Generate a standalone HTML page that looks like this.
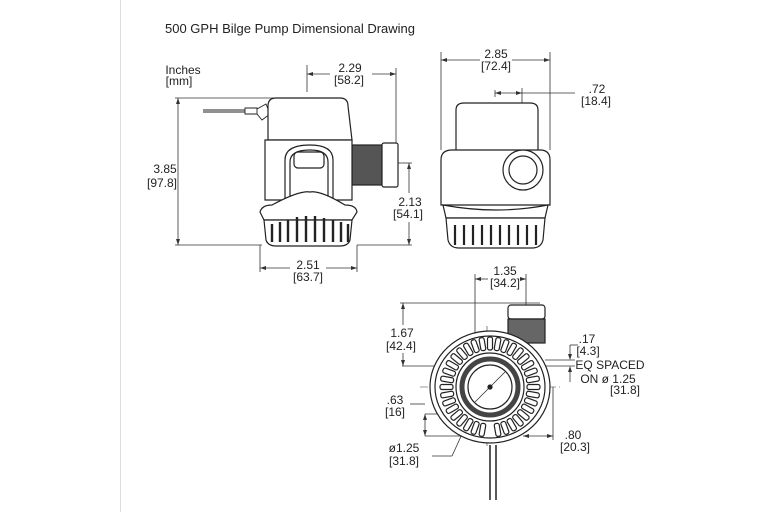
<!DOCTYPE html>
<html><head><meta charset="utf-8"><style>
html,body{margin:0;padding:0;background:#fff;width:768px;height:512px;overflow:hidden}
svg{display:block}
text{font-family:"Liberation Sans",sans-serif;fill:#222}
</style></head><body>
<svg width="768" height="512" viewBox="0 0 768 512">
<line x1="120.5" y1="0" x2="120.5" y2="512" stroke="#ddd" stroke-width="1"/>
<text x="165" y="33" font-size="13" fill="#333">500 GPH Bilge Pump Dimensional Drawing</text>

<g font-size="12" text-anchor="middle">
<text x="183" y="74">Inches</text><text x="179" y="85">[mm]</text>
<text x="165" y="173">3.85</text><text x="162" y="187">[97.8]</text>
<text x="350" y="72">2.29</text><text x="349" y="84">[58.2]</text>
<text x="410" y="206">2.13</text><text x="408" y="218">[54.1]</text>
<text x="308" y="269">2.51</text><text x="308" y="281">[63.7]</text>
<text x="496" y="58">2.85</text><text x="496" y="70">[72.4]</text>
<text x="597" y="93">.72</text><text x="596" y="105">[18.4]</text>
<text x="505" y="275">1.35</text><text x="505" y="287">[34.2]</text>
<text x="402" y="337">1.67</text><text x="401" y="350">[42.4]</text>
<text x="587" y="343">.17</text><text x="588" y="355">[4.3]</text>
<text x="610" y="369">EQ SPACED</text>
<text x="608" y="383">ON ø 1.25</text><text x="625" y="394">[31.8]</text>
<text x="395" y="404">.63</text><text x="395" y="416">[16]</text>
<text x="404" y="452">ø1.25</text><text x="404" y="465">[31.8]</text>
<text x="573" y="439">.80</text><text x="575" y="451">[20.3]</text>
</g>

<g fill="none" stroke="#333" stroke-width="0.8">
<line x1="178" y1="98" x2="178" y2="245"/>
<line x1="175" y1="98" x2="290" y2="98"/>
<line x1="175" y1="245" x2="262" y2="245"/>
<line x1="307" y1="65" x2="307" y2="92"/>
<line x1="396" y1="68" x2="396" y2="145"/>
<line x1="307" y1="74" x2="330" y2="74"/><line x1="372" y1="74" x2="396" y2="74"/>
<line x1="409" y1="163" x2="409" y2="193"/><line x1="409" y1="222" x2="409" y2="245"/>
<line x1="398" y1="163" x2="412" y2="163"/><line x1="357" y1="245" x2="412" y2="245"/>
<line x1="260" y1="245" x2="260" y2="272"/><line x1="357" y1="245" x2="357" y2="272"/>
<line x1="260" y1="268" x2="290" y2="268"/><line x1="326" y1="268" x2="357" y2="268"/>
<line x1="441" y1="52" x2="441" y2="150"/><line x1="550" y1="52" x2="550" y2="150"/>
<line x1="441" y1="60" x2="480" y2="60"/><line x1="512" y1="60" x2="550" y2="60"/>
<line x1="495" y1="90" x2="495" y2="97"/><line x1="522" y1="88" x2="522" y2="137"/>
<line x1="495" y1="93" x2="575" y2="93"/>
<line x1="475" y1="274" x2="475" y2="338"/><line x1="526" y1="274" x2="526" y2="305"/>
<line x1="475" y1="279" x2="488" y2="279"/><line x1="522" y1="279" x2="526" y2="279"/>
<line x1="400" y1="303" x2="540" y2="303"/><line x1="402" y1="366" x2="478" y2="366"/>
<line x1="403" y1="303" x2="403" y2="325"/><line x1="403" y1="353" x2="403" y2="366"/>
<line x1="570" y1="345" x2="570" y2="356"/><line x1="570" y1="372" x2="570" y2="382"/>
<line x1="545" y1="360" x2="575" y2="360"/><line x1="545" y1="366" x2="575" y2="366"/>
<line x1="570" y1="345" x2="578" y2="345"/>
<line x1="425" y1="414" x2="455" y2="414"/><line x1="425" y1="436" x2="480" y2="436"/>
<line x1="425" y1="414" x2="425" y2="436"/><line x1="410" y1="404" x2="425" y2="404"/>
<line x1="432" y1="456" x2="452" y2="456"/><line x1="452" y1="456" x2="463" y2="432"/>
<line x1="523" y1="436" x2="553" y2="436"/><line x1="553" y1="387" x2="553" y2="440"/>
<line x1="420" y1="387" x2="560" y2="387" stroke-dasharray="8,3,2,3" stroke-width="0.6"/>
<line x1="487" y1="326" x2="487" y2="448" stroke-dasharray="8,3,2,3" stroke-width="0.6"/>
</g>
<g fill="#333">
<path d="M178 98l-2 6h4z M178 245l-2 -6h4z M307 74l6 -2v4z M396 74l-6 -2v4z M409 163l-2 6h4z M409 245l-2 -6h4z M260 268l6 -2v4z M357 268l-6 -2v4z M441 60l6 -2v4z M550 60l-6 -2v4z M495 93l6 -2v4z M522 93l-6 -2v4z M475 279l6 -2v4z M526 279l-6 -2v4z M403 303l-2 6h4z M403 366l-2 -6h4z M570 360l-2 -6h4z M570 366l-2 6h4z M425 414l-2 6h4z M425 436l-2 -6h4z M523 436l6 -2v4z M553 436l-6 -2v4z"/>
</g>

<!-- SIDE VIEW -->
<g stroke="#222" stroke-width="1.2" fill="#fff">
<path d="M203 110h42 M203 112h42 M245 108h12 v6 h-12z M257 109 L266 104 L270 114 L262 120 L257 114" stroke-width="0.9"/>
<rect x="352" y="145" width="30" height="40" fill="#555"/>
<rect x="382" y="143" width="16" height="44" rx="2"/>
<path d="M268 140 V106 Q268 98 276 98 H340 Q348 98 348 106 L352 140 Z"/>
<path d="M265 140 H352 V200 H265 Z"/>
<path d="M285 200 V160 Q285 145 310 145 Q333 145 333 160 V200" />
<path d="M290 200 V162 Q290 150 310 150 Q328 150 328 162 V200" fill="none"/>
<rect x="294" y="152" width="30" height="16" rx="4" fill="#fff"/>
<path d="M260 212 Q262 205 272 205 Q300 190 310 192 Q320 190 345 205 Q356 205 357 212 L352 220 H264Z"/>
<path d="M264 220 H352 L350 240 Q348 246 340 246 H276 Q268 246 266 240Z"/>
</g>
<g stroke="#222" stroke-width="2.4">
<line x1="272" y1="224" x2="272" y2="242"/><line x1="280" y1="222" x2="280" y2="242"/><line x1="288" y1="220" x2="288" y2="242"/><line x1="297" y1="217" x2="297" y2="242"/><line x1="306" y1="216" x2="306" y2="242"/><line x1="315" y1="216" x2="315" y2="242"/><line x1="324" y1="218" x2="324" y2="242"/><line x1="333" y1="220" x2="333" y2="242"/><line x1="341" y1="222" x2="341" y2="242"/><line x1="348" y1="224" x2="348" y2="242"/>
</g>

<!-- FRONT VIEW -->
<g stroke="#222" stroke-width="1.2" fill="#fff">
<path d="M456 152 V110 Q456 103 464 103 H530 Q538 103 538 110 V152Z"/>
<path d="M441 160 Q441 150 452 150 H540 Q550 150 550 160 V205 H441Z"/>
<path d="M443 205 Q470 210 496 210 Q522 210 548 205 L545 218 H446Z"/>
<path d="M446 218 H545 L543 240 Q541 248 532 248 H459 Q450 248 448 240Z"/>
<circle cx="523" cy="170" r="20"/><circle cx="523" cy="170" r="14"/>
</g>
<g stroke="#222" stroke-width="2.2">
<line x1="455" y1="225" x2="455" y2="245"/><line x1="464" y1="225" x2="464" y2="245"/><line x1="473" y1="225" x2="473" y2="245"/><line x1="482" y1="225" x2="482" y2="245"/><line x1="491" y1="225" x2="491" y2="245"/><line x1="500" y1="225" x2="500" y2="245"/><line x1="509" y1="225" x2="509" y2="245"/><line x1="518" y1="225" x2="518" y2="245"/><line x1="527" y1="225" x2="527" y2="245"/><line x1="536" y1="225" x2="536" y2="245"/>
</g>

<!-- BOTTOM VIEW -->
<g stroke="#222" stroke-width="1.2" fill="#fff">
<rect x="508" y="305" width="37" height="14" rx="3"/>
<rect x="508" y="319" width="37" height="24" fill="#666"/>
<path d="M490 445 V500 M496 445 V500" stroke-width="1.5"/>
<ellipse cx="490" cy="387" rx="60" ry="56"/>
<ellipse cx="490" cy="387" rx="55" ry="51"/>
</g>
<g transform="translate(490 387)" fill="#fff" stroke="#222" stroke-width="1.2">
<rect x="-2.5" y="-50" width="5" height="13" rx="2" transform="rotate(0)"/>
<rect x="-2.5" y="-50" width="5" height="13" rx="2" transform="rotate(10)"/>
<rect x="-2.5" y="-50" width="5" height="13" rx="2" transform="rotate(20)"/>
<rect x="-2.5" y="-50" width="5" height="13" rx="2" transform="rotate(30)"/>
<rect x="-2.5" y="-50" width="5" height="13" rx="2" transform="rotate(40)"/>
<rect x="-2.5" y="-50" width="5" height="13" rx="2" transform="rotate(50)"/>
<rect x="-2.5" y="-50" width="5" height="13" rx="2" transform="rotate(60)"/>
<rect x="-2.5" y="-50" width="5" height="13" rx="2" transform="rotate(70)"/>
<rect x="-2.5" y="-50" width="5" height="13" rx="2" transform="rotate(80)"/>
<rect x="-2.5" y="-50" width="5" height="13" rx="2" transform="rotate(90)"/>
<rect x="-2.5" y="-50" width="5" height="13" rx="2" transform="rotate(100)"/>
<rect x="-2.5" y="-50" width="5" height="13" rx="2" transform="rotate(110)"/>
<rect x="-2.5" y="-50" width="5" height="13" rx="2" transform="rotate(120)"/>
<rect x="-2.5" y="-50" width="5" height="13" rx="2" transform="rotate(130)"/>
<rect x="-2.5" y="-50" width="5" height="13" rx="2" transform="rotate(140)"/>
<rect x="-2.5" y="-50" width="5" height="13" rx="2" transform="rotate(150)"/>
<rect x="-2.5" y="-50" width="5" height="13" rx="2" transform="rotate(160)"/>
<rect x="-2.5" y="-50" width="5" height="13" rx="2" transform="rotate(170)"/>
<rect x="-2.5" y="-50" width="5" height="13" rx="2" transform="rotate(190)"/>
<rect x="-2.5" y="-50" width="5" height="13" rx="2" transform="rotate(200)"/>
<rect x="-2.5" y="-50" width="5" height="13" rx="2" transform="rotate(210)"/>
<rect x="-2.5" y="-50" width="5" height="13" rx="2" transform="rotate(220)"/>
<rect x="-2.5" y="-50" width="5" height="13" rx="2" transform="rotate(230)"/>
<rect x="-2.5" y="-50" width="5" height="13" rx="2" transform="rotate(240)"/>
<rect x="-2.5" y="-50" width="5" height="13" rx="2" transform="rotate(250)"/>
<rect x="-2.5" y="-50" width="5" height="13" rx="2" transform="rotate(260)"/>
<rect x="-2.5" y="-50" width="5" height="13" rx="2" transform="rotate(270)"/>
<rect x="-2.5" y="-50" width="5" height="13" rx="2" transform="rotate(280)"/>
<rect x="-2.5" y="-50" width="5" height="13" rx="2" transform="rotate(290)"/>
<rect x="-2.5" y="-50" width="5" height="13" rx="2" transform="rotate(300)"/>
<rect x="-2.5" y="-50" width="5" height="13" rx="2" transform="rotate(310)"/>
<rect x="-2.5" y="-50" width="5" height="13" rx="2" transform="rotate(320)"/>
<rect x="-2.5" y="-50" width="5" height="13" rx="2" transform="rotate(330)"/>
<rect x="-2.5" y="-50" width="5" height="13" rx="2" transform="rotate(340)"/>
<rect x="-2.5" y="-50" width="5" height="13" rx="2" transform="rotate(350)"/>
</g>
<g stroke="#222" stroke-width="1.2" fill="#fff">
<circle cx="490" cy="387" r="34"/>
<circle cx="490" cy="387" r="28" stroke-width="5" stroke="#444" fill="none"/>
<circle cx="490" cy="387" r="22"/>
<circle cx="490" cy="387" r="2" fill="#222"/>
<line x1="475" y1="402" x2="505" y2="372" stroke-width="0.7"/>
</g>
</svg>
</body></html>
